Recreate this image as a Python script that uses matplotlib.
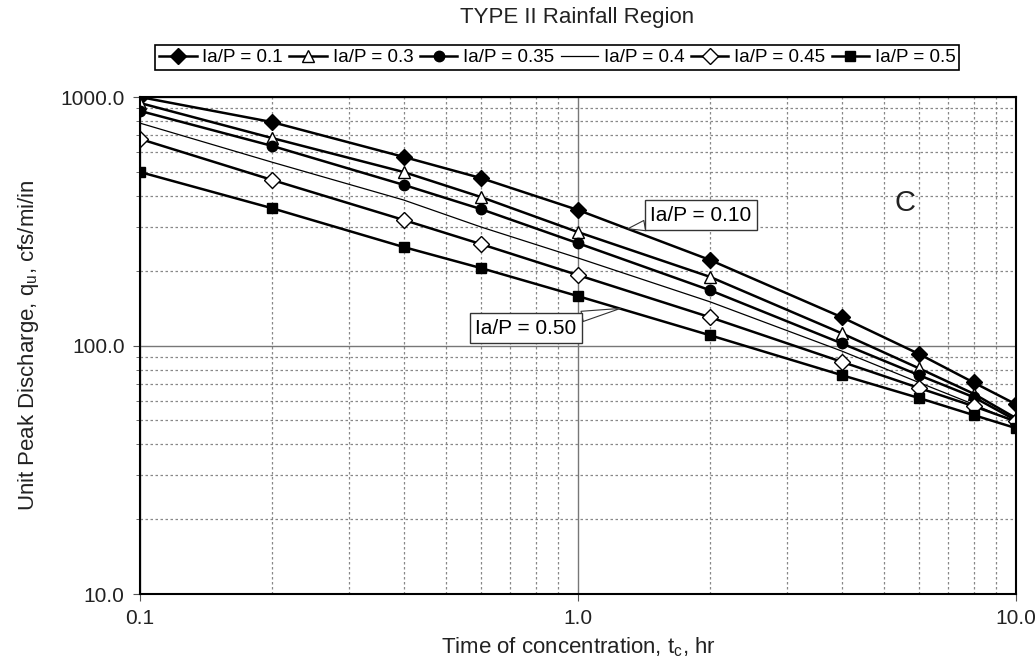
import matplotlib
matplotlib.use("Agg")
import matplotlib.pyplot as plt
from matplotlib.ticker import LogLocator, FuncFormatter, NullFormatter

plt.rcParams['font.family'] = ['Liberation Sans', 'DejaVu Sans']

# time of concentration, hr
tc = [0.1, 0.2, 0.4, 0.6, 1.0, 2.0, 4.0, 6.0, 8.0, 10.0]

# unit peak discharge, cfs/mi/in
q_010 = [1000, 793, 574, 472, 351, 221, 130, 92.5, 71, 58]
q_030 = [946, 684, 499, 396, 286, 189, 112, 81, 64, 51]
q_035 = [879, 636, 443, 354, 258, 167, 102, 76, 62, 50]
q_040 = [785, 547, 385, 300, 225, 150, 95, 71, 58, 49]
q_045 = [678, 464, 320, 256, 192, 130, 86, 67.5, 57, 49.5]
q_050 = [499, 357, 249, 205, 158, 110, 76, 61.5, 52.5, 46.5]

labels = ["Ia/P = 0.1", "Ia/P = 0.3", "Ia/P = 0.35", "Ia/P = 0.4",
          "Ia/P = 0.45", "Ia/P = 0.5"]

fig = plt.figure(figsize=(10.36, 6.69), dpi=100)
ax = fig.add_axes([0.1351, 0.1121, 0.8456, 0.7429])

h1, = ax.plot(tc, q_010, '-D', color='black', lw=1.8, ms=8, mfc='black')
h2, = ax.plot(tc, q_030, '-^', color='black', lw=1.8, ms=8, mfc='white')
h3, = ax.plot(tc, q_035, '-o', color='black', lw=1.8, ms=7.5, mfc='black')
h4, = ax.plot(tc, q_040, '-', color='black', lw=0.9)
h5, = ax.plot(tc, q_045, '-D', color='black', lw=1.8, ms=8, mfc='white')
h6, = ax.plot(tc, q_050, '-s', color='black', lw=1.8, ms=7, mfc='black')

ax.set_xscale('log')
ax.set_yscale('log')
ax.set_xlim(0.1, 10)
ax.set_ylim(10, 1000)

fmt = FuncFormatter(lambda v, p: "%.1f" % v)
ax.xaxis.set_major_locator(LogLocator(base=10))
ax.yaxis.set_major_locator(LogLocator(base=10))
ax.xaxis.set_major_formatter(fmt)
ax.yaxis.set_major_formatter(fmt)
ax.xaxis.set_minor_locator(LogLocator(base=10, subs=range(2, 10)))
ax.yaxis.set_minor_locator(LogLocator(base=10, subs=range(2, 10)))
ax.xaxis.set_minor_formatter(NullFormatter())
ax.yaxis.set_minor_formatter(NullFormatter())

ax.grid(True, which='major', color='#777777', lw=1.0, ls='-')
ax.grid(True, which='minor', color='#888888', lw=0.9, ls=(0, (2, 2)))
ax.set_axisbelow(True)

ax.tick_params(axis='both', which='major', labelsize=15, length=5,
               direction='out', color='#555555', pad=6,
               labelcolor='#222222')
ax.tick_params(axis='y', which='minor', length=3, direction='out',
               color='#555555')
ax.tick_params(axis='x', which='minor', length=0)
for s in ax.spines.values():
    s.set_color('black')
    s.set_linewidth(1.5)

ax.set_xlabel("Time of concentration, t$_\\mathregular{c}$, hr",
              fontsize=16, color='#222222', labelpad=5)
ax.set_ylabel("Unit Peak Discharge, q$_\\mathregular{u}$, cfs/mi/in",
              fontsize=16, color='#222222', labelpad=14)
fig.suptitle("TYPE II Rainfall Region", fontsize=16, color='#222222',
             x=0.557, y=0.99)

leg = fig.legend([h1, h2, h3, h4, h5, h6], labels, loc='center',
                 bbox_to_anchor=(0.538, 0.914), ncol=6, fontsize=13.5,
                 handlelength=2.0, handletextpad=0.3, columnspacing=0.35,
                 borderpad=0.2, fancybox=False, edgecolor='black',
                 framealpha=1)
leg.get_frame().set_linewidth(1.2)

box = dict(boxstyle='square,pad=0.25', fc='white', ec='#333333', lw=1.0)
arrow = dict(arrowstyle='wedge,tail_width=0.5', fc='white', ec='#333333',
             lw=0.8, shrinkA=0, shrinkB=0)
ax.annotate("Ia/P = 0.10", xy=(1.3, 295), xytext=(1.91, 335), fontsize=15,
            ha='center', va='center', bbox=box, arrowprops=arrow)
ax.annotate("Ia/P = 0.50", xy=(1.25, 141), xytext=(0.76, 117.5), fontsize=15,
            ha='center', va='center', bbox=box, arrowprops=arrow)
ax.text(5.58, 374, "C", fontsize=21, ha='center', va='center', color='#222222')

fig.savefig("out.png", dpi=100)
